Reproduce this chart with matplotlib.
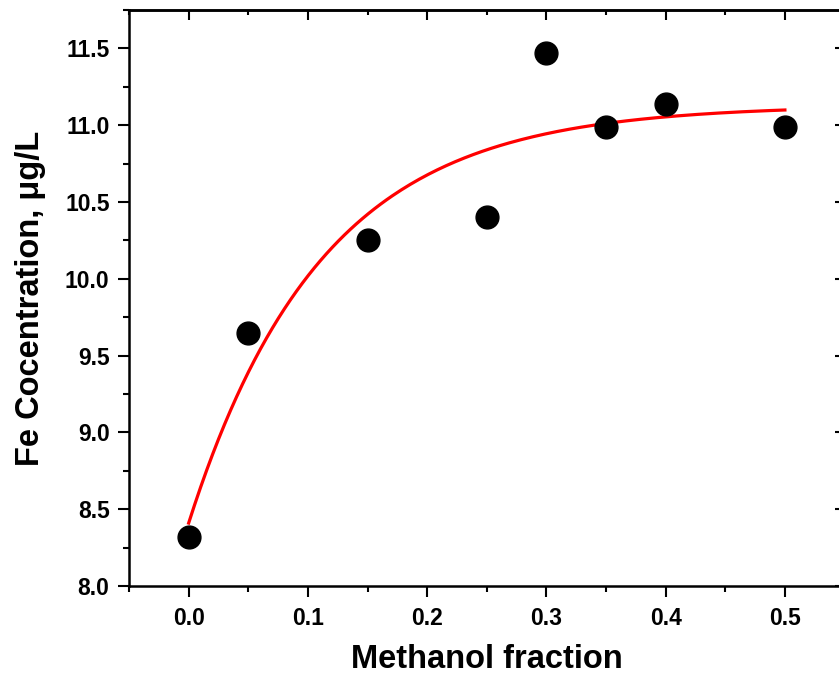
import numpy as np
import matplotlib
matplotlib.use("Agg")
import matplotlib.pyplot as plt
from matplotlib.ticker import MultipleLocator, FormatStrFormatter

# ---- data ----
methanol_fraction = [0.0, 0.05, 0.15, 0.25, 0.30, 0.35, 0.40, 0.50]
fe_conc = [8.32, 9.65, 10.25, 10.40, 11.47, 10.99, 11.14, 10.99]

# exponential fit y = A - B*exp(-x/t) (parameters estimated from the red curve)
fit_A = 11.13
fit_B = 2.72
fit_t = 0.1117
fit_x_range = [0.0, 0.5]

plt.rcParams["font.family"] = ["Liberation Sans", "DejaVu Sans"]
plt.rcParams["font.weight"] = "bold"

fig = plt.figure(figsize=(8.39, 6.76), dpi=100)
# right spine sits just past the image edge, as in the reference
ax = fig.add_axes([0.1538, 0.1331, 0.8528, 0.8521])

xf = np.linspace(fit_x_range[0], fit_x_range[1], 200)
ax.plot(xf, fit_A - fit_B * np.exp(-xf / fit_t), color="red", lw=2.3, zorder=2)
ax.scatter(methanol_fraction, fe_conc, s=270, color="black", zorder=3)

ax.set_xlim(-0.05, 0.55)
ax.set_ylim(8.0, 11.75)
ax.xaxis.set_major_locator(MultipleLocator(0.1))
ax.xaxis.set_minor_locator(MultipleLocator(0.05))
ax.yaxis.set_major_locator(MultipleLocator(0.5))
ax.yaxis.set_minor_locator(MultipleLocator(0.25))
ax.xaxis.set_major_formatter(FormatStrFormatter("%.1f"))
ax.yaxis.set_major_formatter(FormatStrFormatter("%.1f"))

for s in ax.spines.values():
    s.set_linewidth(1.8)

ax.tick_params(which="major", direction="out", length=8, width=1.5, labelsize=16.5)
ax.tick_params(which="minor", direction="out", length=4, width=1.5)
ax.tick_params(axis="x", which="major", pad=7)
ax.tick_params(axis="y", which="major", pad=6)

# inward ticks on top and right
top = ax.secondary_xaxis("top")
top.xaxis.set_major_locator(MultipleLocator(0.1))
top.xaxis.set_minor_locator(MultipleLocator(0.05))
top.tick_params(which="major", direction="in", length=7, width=1.5, labeltop=False)
top.tick_params(which="minor", direction="in", length=3.5, width=1.5)
right = ax.secondary_yaxis("right")
right.yaxis.set_major_locator(MultipleLocator(0.5))
right.yaxis.set_minor_locator(MultipleLocator(0.25))
right.tick_params(which="major", direction="in", length=7, width=1.5, labelright=False)
right.tick_params(which="minor", direction="in", length=3.5, width=1.5)
for sec in (top, right):
    for s in sec.spines.values():
        s.set_linewidth(1.8)

ax.set_xlabel("Methanol fraction", fontsize=23.5, fontweight="bold", labelpad=10)
ax.set_ylabel("Fe Cocentration, μg/L", fontsize=23.5, fontweight="bold", labelpad=14)

fig.savefig("out.png", dpi=100)
